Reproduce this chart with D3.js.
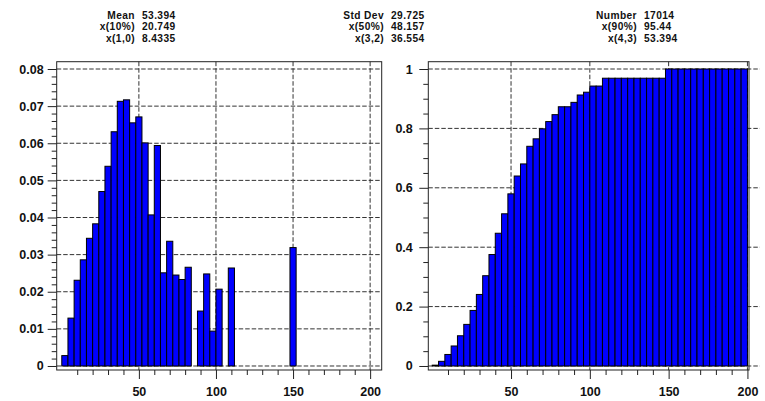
<!DOCTYPE html>
<html>
<head>
<meta charset="utf-8">
<script src="https://cdn.jsdelivr.net/npm/d3@7/dist/d3.min.js"></script>
<style>
  html, body { margin: 0; padding: 0; background: #fff; }
  svg { display: block; }
  text { font-family: "Liberation Sans", Arial, sans-serif; font-weight: bold; fill: #111; }
</style>
</head>
<body>
<svg id="chart" width="765" height="401"></svg>
<script>
// ---------- data ----------
const binStart = [0,4,8,12,16,20,24,28,32,36,40,44,48,52,56,60,64,68,72,76,80,84,88,92,96,
                  100,104,108,112,116,120,124,128,132,136,140,144,148,152,156,160,164,168,172,176,180,184,188,192,196];
const binWidth = 4;
const probValues = [0.0028,0.0129,0.0231,0.0286,0.0344,0.0383,0.0470,0.0538,0.0631,0.0713,
                    0.0717,0.0655,0.0671,0.0601,0.0407,0.0594,0.0251,0.0336,0.0245,0.0233,
                    0.0266,0,0.0148,0.0248,0.0094,0.0207,0,0.0264,0,0,
                    0,0,0,0,0,0,0,0.0319,0,0,
                    0,0,0,0,0,0,0,0,0,0];
const cumValues = [0.0028,0.0157,0.0388,0.0674,0.1018,0.1401,0.1871,0.2409,0.3040,0.3753,
                   0.4470,0.5125,0.5796,0.6397,0.6804,0.7398,0.7649,0.7985,0.8230,0.8463,
                   0.8729,0.8729,0.8877,0.9125,0.9219,0.9426,0.9426,0.9690,0.9690,0.9690,
                   0.9690,0.9690,0.9690,0.9690,0.9690,0.9690,0.9690,1,1,1,
                   1,1,1,1,1,1,1,1,1,1];
const xTicks = [50,100,150,200];
const xMinorTicks = [10,20,30,40,60,70,80,90,110,120,130,140,160,170,180,190];
const yTicksLeft = [0,0.01,0.02,0.03,0.04,0.05,0.06,0.07,0.08];
const yTicksLeftLabels = ["0","0.01","0.02","0.03","0.04","0.05","0.06","0.07","0.08"];
const yTicksRight = [0,0.2,0.4,0.6,0.8,1];
const yTicksRightLabels = ["0","0.2","0.4","0.6","0.8","1"];
const headerLabels = [["Mean","x(10%)","x(1,0)"],["Std Dev","x(50%)","x(3,2)"],["Number","x(90%)","x(4,3)"]];
const headerValues = [["53.394","20.749","8.4335"],["29.725","48.157","36.554"],["17014","95.44","53.394"]];

// ---------- layout ----------
const svg = d3.select("#chart");
const panels = [
  { left: 56.7, right: 381.7, top: 61.7, bottom: 370, xDom: [-3.3, 207.5], yDom: [-0.00108, 0.08197],
    values: probValues, yTicks: yTicksLeft, yLabels: yTicksLeftLabels, yStep: 0.002, labelPad: 4, gridExtraRight: 0 },
  { left: 428.3, right: 749, top: 61.7, bottom: 370, xDom: [-2.5, 201], yDom: [-0.0135, 1.0246],
    values: cumValues, yTicks: yTicksRight, yLabels: yTicksRightLabels, yStep: 0.05, labelPad: 6.5, gridExtraRight: 11 }
];

panels.forEach(p => {
  const x = d3.scaleLinear().domain(p.xDom).range([p.left, p.right]);
  const y = d3.scaleLinear().domain(p.yDom).range([p.bottom, p.top]);
  const g = svg.append("g");

  // horizontal dashed gridlines
  g.append("g").selectAll("line").data(p.yTicks).join("line")
    .attr("x1", p.left).attr("x2", p.right + p.gridExtraRight)
    .attr("y1", d => y(d)).attr("y2", d => y(d))
    .attr("stroke", "#333").attr("stroke-width", 1).attr("stroke-dasharray", "4.5,2");
  // vertical dashed gridlines
  g.append("g").selectAll("line").data(xTicks).join("line")
    .attr("x1", d => x(d)).attr("x2", d => x(d))
    .attr("y1", p.top).attr("y2", p.bottom)
    .attr("stroke", "#333").attr("stroke-width", 1).attr("stroke-dasharray", "4.5,2");

  // bars
  const bars = binStart.map((s, i) => ({ s, v: p.values[i] })).filter(d => d.v > 0);
  g.append("g").selectAll("rect").data(bars).join("rect")
    .attr("x", d => x(d.s)).attr("width", d => x(d.s + binWidth) - x(d.s))
    .attr("y", d => y(d.v)).attr("height", d => y(0) - y(d.v))
    .attr("fill", "#0000ff").attr("stroke", "#000").attr("stroke-width", 1);

  // frame
  g.append("rect").attr("x", p.left).attr("y", p.top)
    .attr("width", p.right - p.left).attr("height", p.bottom - p.top)
    .attr("fill", "none").attr("stroke", "#222").attr("stroke-width", 1);

  // y axis major
  const yAxis = d3.axisLeft(y).tickValues(p.yTicks).tickSize(9).tickPadding(p.labelPad)
    .tickFormat((d, i) => p.yLabels[i]);
  const ya = g.append("g").attr("transform", `translate(${p.left},0)`).call(yAxis);
  ya.select(".domain").remove();
  ya.selectAll("text").style("font-size", "12.5px");
  // y axis minor
  const yMinor = d3.range(0, p.yDom[1], p.yStep).filter(v => !p.yTicks.some(t => Math.abs(t - v) < 1e-9));
  const ym = g.append("g").attr("transform", `translate(${p.left},0)`)
    .call(d3.axisLeft(y).tickValues(yMinor).tickSize(5).tickFormat(""));
  ym.select(".domain").remove();

  // x axis major
  const xAxis = d3.axisBottom(x).tickValues(xTicks).tickSize(9).tickPadding(8).tickFormat(d3.format("d"));
  const xa = g.append("g").attr("transform", `translate(0,${p.bottom})`).call(xAxis);
  xa.select(".domain").remove();
  xa.selectAll("text").style("font-size", "12.5px");
  const xm = g.append("g").attr("transform", `translate(0,${p.bottom})`)
    .call(d3.axisBottom(x).tickValues(xMinorTicks).tickSize(5).tickFormat(""));
  xm.select(".domain").remove();
  svg.selectAll(".tick line").attr("stroke", "#222");
  svg.selectAll(".tick text").attr("fill", "#111");
});
svg.selectAll("g[font-family]").attr("font-family", null);

// ---------- header ----------
const colLabelRight = [135, 384, 637];
const rowBaseline = [18.6, 30.1, 41.6];
headerLabels.forEach((col, c) => {
  col.forEach((lab, r) => {
    svg.append("text").attr("x", colLabelRight[c]).attr("y", rowBaseline[r])
      .attr("text-anchor", "end").style("font-size", "10.2px").style("letter-spacing", "0.4px").text(lab);
    svg.append("text").attr("x", colLabelRight[c] + 7).attr("y", rowBaseline[r])
      .attr("text-anchor", "start").style("font-size", "10.2px").style("letter-spacing", "0.4px")
      .text(headerValues[c][r]);
  });
});
</script>
</body>
</html>
